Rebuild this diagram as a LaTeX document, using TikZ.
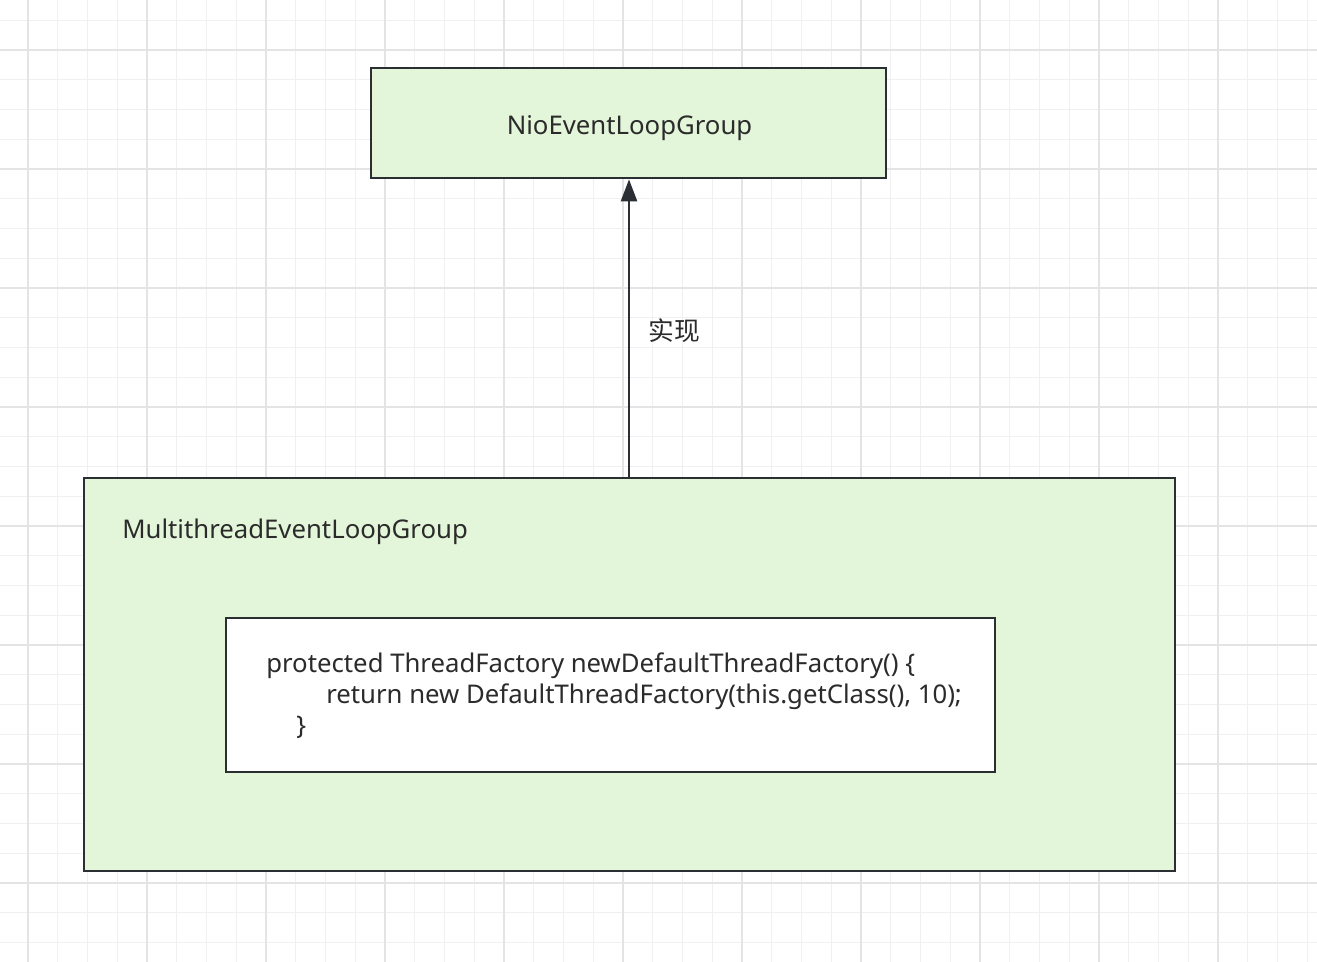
\documentclass[tikz,border=0pt]{standalone}
\usepackage{fontspec}
\setmainfont{Noto Sans}
\newfontfamily\cjk{Noto Sans CJK SC}
\usetikzlibrary{arrows.meta}
\definecolor{gridminor}{HTML}{F0F0F0}
\definecolor{gridmajor}{HTML}{E4E4E4}
\definecolor{boxfill}{HTML}{E4F6DA}
\definecolor{boxline}{HTML}{2B2F33}
\definecolor{txt}{HTML}{2B2B2B}
\tikzset{
  classbox/.style={draw=boxline, line width=2pt, fill=boxfill, inner sep=0pt},
  codebox/.style={draw=boxline, line width=2pt, fill=white, inner sep=0pt},
  lbl/.style={text=txt, inner sep=0pt, font=\fontsize{19.3pt}{24pt}\selectfont},
  conn/.style={draw=boxline, line width=1.9pt, -{Triangle[length=16.5pt,width=12pt]}},
}
\begin{document}
\begin{tikzpicture}[x=0.75pt,y=-0.75pt]
\useasboundingbox (0,0) rectangle (1317,962);
\fill[white] (0,0) rectangle (1317,962);
% grid
\foreach \i in {0,...,43} {\draw[gridminor, line width=0.8pt] ({28+\i*29.75},0) -- ({28+\i*29.75},962);}
\foreach \j in {0,...,31} {\draw[gridminor, line width=0.8pt] (0,{20.25+\j*29.75}) -- (1317,{20.25+\j*29.75});}
\foreach \i in {0,...,10} {\draw[gridmajor, line width=1.1pt] ({28+\i*119},0) -- ({28+\i*119},962);}
\foreach \j in {0,...,7} {\draw[gridmajor, line width=1.1pt] (0,{50+\j*119}) -- (1317,{50+\j*119});}
% boxes
\node[classbox, minimum width=515*0.75pt, minimum height=110*0.75pt] (nio) at (628.5,123) {};
\node[lbl] (niotxt) at (629.5,128) {NioEventLoopGroup};
\node[classbox, minimum width=1091*0.75pt, minimum height=393*0.75pt] (multi) at (629.5,674.5) {};
\node[lbl, anchor=west] (multitxt) at (122,532) {MultithreadEventLoopGroup};
\node[codebox, minimum width=769*0.75pt, minimum height=154*0.75pt] (code) at (610.5,695) {};
\node[lbl, anchor=base west] (l1) at (266,672) {protected ThreadFactory newDefaultThreadFactory() \{};
\node[lbl, anchor=base west] (l2) at (326,703) {return new DefaultThreadFactory(this.getClass(), 10);};
\node[lbl, anchor=base west] (l3) at (296,734) {\}};
% connector
\coordinate (s) at (629,478);
\coordinate (t) at (629,178);
\draw[conn] (multi.north -| s) -- (nio.south -| t);
\node[lbl, anchor=west, font=\cjk\fontsize{19.3pt}{24pt}\selectfont] (impl) at (648,331) {实现};
\end{tikzpicture}
\end{document}
